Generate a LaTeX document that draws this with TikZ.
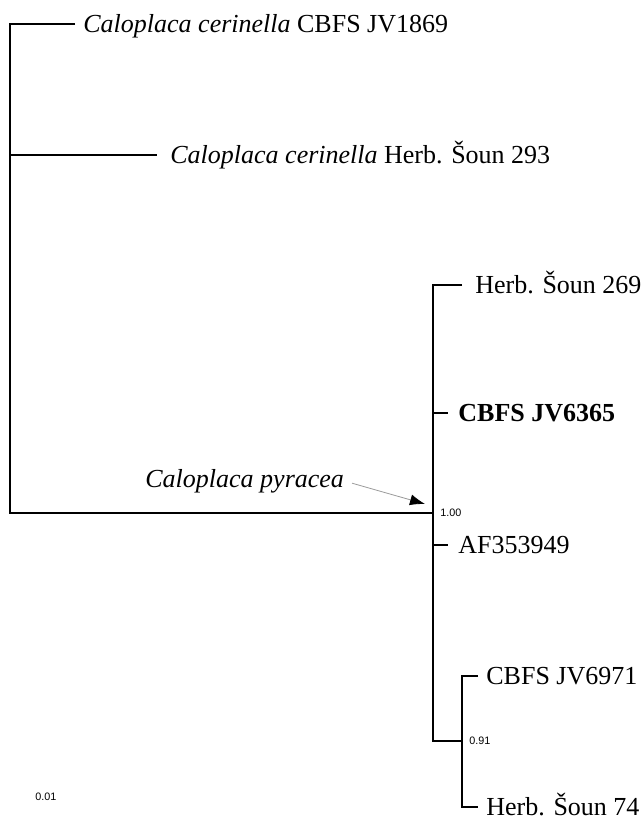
\documentclass[tikz,border=0pt]{standalone}
\usepackage{fontspec}
\setmainfont{Liberation Serif}
\newfontfamily\supfont{Liberation Sans}
\usetikzlibrary{arrows.meta,positioning}

\tikzset{
  branch/.style={line width=1.1pt},
  taxon/.style={inner sep=0pt, anchor=west, text height=8.6pt, text depth=0pt, font=\fontsize{13}{15}\selectfont},
  support/.style={inner sep=0pt, anchor=west, font=\supfont\fontsize{5.4}{6}\selectfont},
  pointer/.style={draw=gray!80, line width=0.4pt, shorten <=4pt, -{Latex[length=7.5pt, width=5.5pt, color=black]}},
}

\begin{document}
\begin{tikzpicture}[x=0.5pt, y=-0.5pt, node distance=5pt]
  \useasboundingbox (0,0) rectangle (641,827);

  % internal nodes
  \coordinate (top) at (10,24);
  \coordinate (n2) at (10,155);
  \coordinate (root) at (10,513);
  \coordinate (c1) at (433,513);
  \coordinate (c2) at (462,741);

  % branch tips
  \coordinate (t1) at (75,24);
  \coordinate (t2) at (157,155);
  \coordinate (t3) at (462,285);
  \coordinate (t4) at (448,413);
  \coordinate (t5) at (448,545);
  \coordinate (t6) at (478,676);
  \coordinate (t7) at (478,807);

  % taxa
  \node[taxon, right=4pt of t1] (l1) {\textit{Caloplaca cerinella} CBFS JV1869};
  \node[taxon, right=6.5pt of t2] (l2) {\textit{Caloplaca cerinella} Herb. Šoun 293};
  \node[taxon, right=6.5pt of t3] (l3) {Herb. Šoun 269};
  \node[taxon, right=5pt of t4] (l4) {\textbf{CBFS JV6365}};
  \node[taxon, right=5pt of t5] (l5) {AF353949};
  \node[taxon, right=4pt of t6] (l6) {CBFS JV6971};
  \node[taxon, right=4pt of t7] (l7) {Herb. Šoun 74};

  % tree
  \draw[branch] (t1) -- (top) -- (root) -- (c1);
  \draw[branch] (n2) -- (t2);
  \draw[branch] (t3) -| (c1) |- (c2);
  \draw[branch] (c1 |- t4) -- (t4);
  \draw[branch] (c1 |- t5) -- (t5);
  \draw[branch] (t6) -| (c2) |- (t7);

  % support values
  \node[support, right=3.5pt of c1] (s1) {1.00};
  \node[support, right=3.5pt of c2] (s2) {0.91};
  \node[support] (scale) at (35,797) {0.01};

  % clade label
  \node[taxon] (pyr) at (145,479) {\textit{Caloplaca pyracea}};
  \coordinate (pstart) at ([yshift=-1pt]pyr.east);
  \coordinate (ptr) at (425,504);
  \draw[pointer] (pstart) -- (ptr);
\end{tikzpicture}
\end{document}
